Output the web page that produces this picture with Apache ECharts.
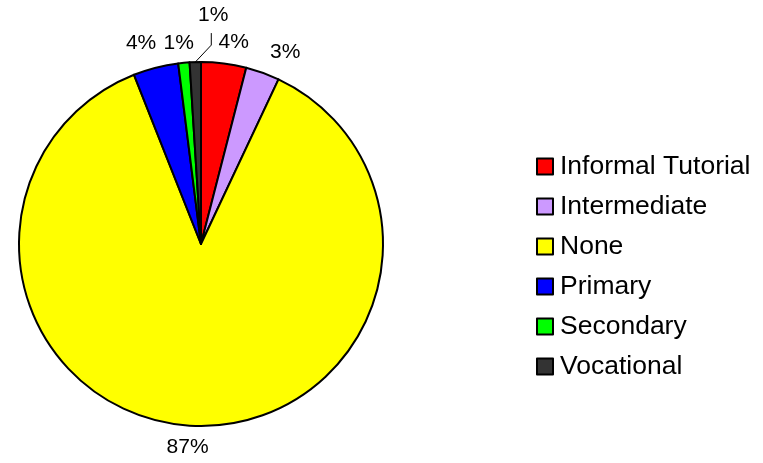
<!DOCTYPE html>
<html>
<head>
<meta charset="utf-8">
<style>
  html, body { margin: 0; padding: 0; background: #ffffff; }
  #chart { width: 763px; height: 463px; }
</style>
<script src="https://cdn.jsdelivr.net/npm/echarts@6/dist/echarts.min.js"></script>
</head>
<body>
<div id="chart"></div>
<script>
// Share of respondents by type of schooling (percent)
const categories = ['Informal Tutorial', 'Intermediate', 'None', 'Primary', 'Secondary', 'Vocational'];
const shares = [4, 3, 87, 4, 1, 1];
const sliceColors = ['#ff0000', '#cc99ff', '#ffff00', '#0000ff', '#00ff00', '#333333'];

const FONT = '"Liberation Sans", Arial, Helvetica, sans-serif';

// small nudges applied to the outside labels after ECharts places them
const labelNudge = [[-8, 1], [0, 0], [14, -1], [6, -3], [12, 2], [0, 0]];

const chart = echarts.init(document.getElementById('chart'), null, { renderer: 'canvas' });

const pieData = categories.map(function (name, i) {
  const item = {
    name: name,
    value: shares[i],
    itemStyle: { color: sliceColors[i] }
  };
  if (name === 'Vocational') {
    item.labelLine = { show: true, length: 20, length2: 0 };
  }
  return item;
});

chart.setOption({
  animation: false,
  backgroundColor: '#ffffff',
  legend: {
    orient: 'vertical',
    left: 536,
    top: 153,
    padding: 0,
    icon: 'rect',
    itemWidth: 16,
    itemHeight: 16,
    itemGap: 13,
    selectedMode: false,
    itemStyle: { borderColor: '#000000', borderWidth: 2 },
    textStyle: { fontFamily: FONT, fontSize: 26.5, color: '#000000', lineHeight: 26, padding: [0, 0, 0, 2] },
    data: categories
  },
  series: [{
    type: 'pie',
    center: [201, 244],
    radius: [0, 182],
    startAngle: 90,
    clockwise: true,
    avoidLabelOverlap: false,
    silent: true,
    itemStyle: { borderColor: '#000000', borderWidth: 2 },
    label: {
      show: true,
      position: 'outside',
      fontFamily: FONT,
      fontSize: 21,
      color: '#000000',
      distanceToLabelLine: 0,
      formatter: function (p) { return Math.round(p.percent) + '%'; }
    },
    labelLine: { show: false, length: 22, length2: 0, lineStyle: { color: '#000000', width: 1 } },
    labelLayout: function (p) {
      const pts = p.labelLinePoints;
      if (categories[p.dataIndex] === 'Vocational' && pts) {
        // leader line: up-right from the slice edge, then straight up to the label
        const s = pts[0];
        const bend = [s[0] + 16, s[1] - 17];
        const end = [bend[0], bend[1] - 12];
        return {
          hideOverlap: false,
          x: end[0] + 2,
          y: end[1] - 18,
          align: 'center',
          verticalAlign: 'middle',
          labelLinePoints: [s, bend, end]
        };
      }
      const n = labelNudge[p.dataIndex];
      return { hideOverlap: false, dx: n[0], dy: n[1] };
    },
    data: pieData
  }]
});
</script>
</body>
</html>
